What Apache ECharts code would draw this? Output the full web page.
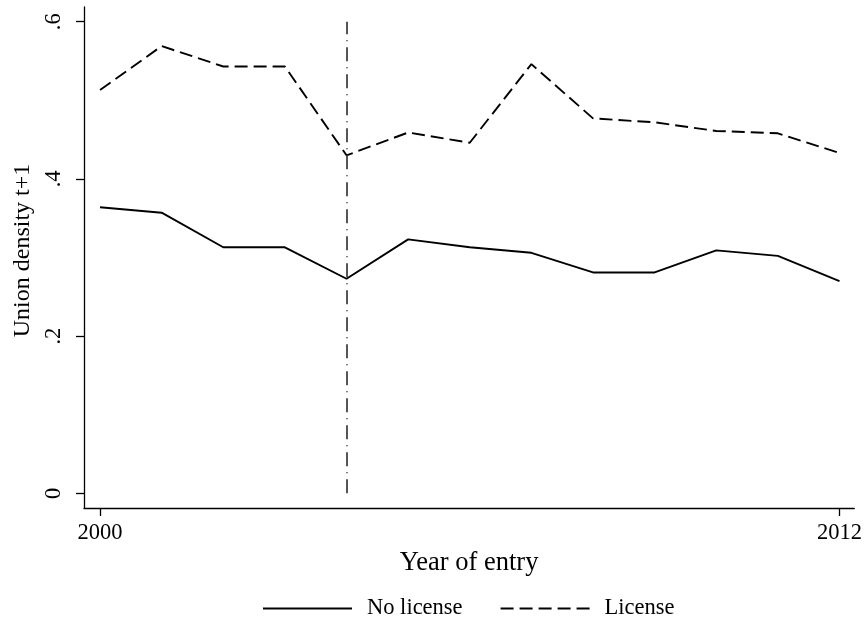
<!DOCTYPE html>
<html>
<head>
<meta charset="utf-8">
<script src="https://cdn.jsdelivr.net/npm/echarts@6/dist/echarts.min.js"></script>
<style>
html,body{margin:0;padding:0;background:#fff;}
#chart{width:865px;height:630px;}
</style>
</head>
<body>
<div id="chart"></div>
<script>
const years = [2000,2001,2002,2003,2004,2005,2006,2007,2008,2009,2010,2011,2012];
const noLicense = [0.364,0.357,0.313,0.313,0.273,0.323,0.313,0.306,0.281,0.281,0.309,0.302,0.270];
const license   = [0.513,0.569,0.543,0.543,0.430,0.459,0.446,0.546,0.477,0.472,0.461,0.458,0.433];
const xTicks = [2000, 2012];
const yTicks = [0, 0.2, 0.4, 0.6];
const refYear = 2004;
const refRange = [0, 0.6];
const seriesNames = ['No license', 'License'];

const FONT = '"Liberation Serif", "Times New Roman", serif';
const chart = echarts.init(document.getElementById('chart'), null, {renderer: 'canvas'});
const fmtY = v => (v === 0 ? '0' : String(+v.toFixed(1)).replace(/^0\./, '.'));

chart.setOption({
  animation: false,
  backgroundColor: '#fff',
  textStyle: {fontFamily: FONT, color: '#000'},
  grid: {left: 84, right: 8, top: 7, bottom: 122, containLabel: false},
  xAxis: {
    type: 'value',
    min: 1999.74, max: 2012.24,
    name: 'Year of entry',
    nameLocation: 'middle',
    nameGap: 42,
    nameTextStyle: {fontFamily: FONT, fontSize: 26.5, color: '#000'},
    axisLine: {show: true, onZero: false, lineStyle: {color: '#000', width: 1.3}},
    axisTick: {show: true, length: 8, customValues: xTicks, lineStyle: {color: '#000', width: 1.3}},
    axisLabel: {customValues: xTicks, fontFamily: FONT, fontSize: 22.5, color: '#000', margin: 14, formatter: v => String(v)},
    splitLine: {show: false}
  },
  yAxis: {
    type: 'value',
    min: -0.0187, max: 0.6187,
    name: 'Union density t+1',
    nameLocation: 'middle',
    nameGap: 48,
    nameTextStyle: {fontFamily: FONT, fontSize: 24, color: '#000', padding: [0, 0, 0, 14]},
    axisLine: {show: true, onZero: false, lineStyle: {color: '#000', width: 1.3}},
    axisTick: {show: true, length: 8, customValues: yTicks, lineStyle: {color: '#000', width: 1.3}},
    axisLabel: {customValues: yTicks, rotate: 90, fontFamily: FONT, fontSize: 22.5, color: '#000', margin: 18, formatter: fmtY},
    splitLine: {show: false}
  },
  legend: {
    left: 257, top: 592,
    itemWidth: 89, itemHeight: 14, itemGap: 37,
    itemStyle: {opacity: 0},
    textStyle: {fontFamily: FONT, fontSize: 22.5, color: '#000', padding: [0,0,0,10]},
    data: seriesNames
  },
  series: [
    {
      name: seriesNames[0], type: 'line', symbol: 'none',
      data: years.map((y, i) => [y, noLicense[i]]),
      lineStyle: {color: '#000', width: 1.9, type: 'solid'},
      itemStyle: {color: '#000'},
      markLine: {
        silent: true, symbol: 'none', label: {show: false},
        lineStyle: {color: '#444', width: 1.8, type: [14, 6, 1, 6]},
        data: [[{coord: [refYear, refRange[0]]}, {coord: [refYear, refRange[1]]}]]
      }
    },
    {
      name: seriesNames[1], type: 'line', symbol: 'none',
      data: years.map((y, i) => [y, license[i]]),
      lineStyle: {color: '#000', width: 1.9, type: [13, 6]},
      itemStyle: {color: '#000'}
    }
  ]
});
</script>
</body>
</html>
